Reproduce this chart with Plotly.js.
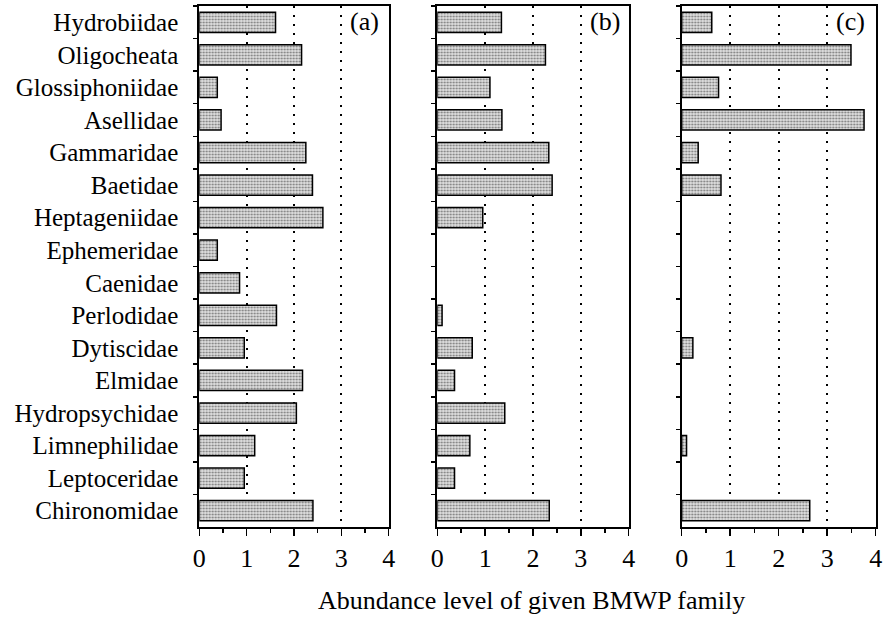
<!DOCTYPE html>
<html>
<head>
<meta charset="utf-8">
<script src="https://cdn.plot.ly/plotly-3.0.1.min.js"></script>
<style>
html,body{margin:0;padding:0;background:#fff;}
#chart{width:886px;height:617px;}
</style>
</head>
<body>
<div id="chart"></div>
<script>
const categories = ["Hydrobiidae","Oligocheata","Glossiphoniidae","Asellidae","Gammaridae","Baetidae","Heptageniidae","Ephemeridae","Caenidae","Perlodidae","Dytiscidae","Elmidae","Hydropsychidae","Limnephilidae","Leptoceridae","Chironomidae"];
const valuesA = [1.61,2.16,0.38,0.46,2.25,2.39,2.61,0.38,0.85,1.63,0.95,2.18,2.05,1.17,0.95,2.40];
const valuesB = [1.34,2.26,1.10,1.35,2.33,2.40,0.95,0,0,0.10,0.73,0.36,1.41,0.68,0.36,2.34];
const valuesC = [0.62,3.49,0.76,3.76,0.34,0.81,0,0,0,0,0.23,0,0,0.10,0,2.64];
const panelLabels = ["(a)","(b)","(c)"];
const xTickVals = [0,1,2,3,4];
const xTitle = "Abundance level of given BMWP family";

const W = 886, H = 617;
const fontFam = "Liberation Serif, Times New Roman, serif";
const xDom = [[199.3,388.7],[437.3,628.7],[681.7,875.7]].map(d => [d[0]/W, d[1]/W]);
const yDom = [1-527/H, 1-6/H];

const series = [valuesA, valuesB, valuesC];
const traces = series.map((vals, i) => ({
  type: 'bar', orientation: 'h',
  y: categories, x: vals,
  xaxis: i === 0 ? 'x' : 'x' + (i+1),
  yaxis: i === 0 ? 'y' : 'y' + (i+1),
  width: 0.62,
  marker: {
    color: '#cccccc',
    line: {color: '#000', width: vals.map(v => v > 0 ? 1.5 : 0)},
    pattern: {shape: '.', size: 3, solidity: 0.35, fgcolor: '#777777', bgcolor: '#e2e2e2', fillmode: 'replace'}
  },
  hoverinfo: 'skip', showlegend: false
}));

const layout = {
  width: W, height: H,
  margin: {l:0, r:0, t:0, b:0},
  paper_bgcolor: '#fff', plot_bgcolor: '#fff',
  font: {family: fontFam, size: 25, color: '#000'},
  showlegend: false,
  annotations: []
};

for (let i = 0; i < 3; i++) {
  const sx = i === 0 ? '' : String(i+1);
  layout['xaxis' + sx] = {
    domain: xDom[i], anchor: 'y' + sx, range: [0, 4],
    tickvals: xTickVals, ticktext: xTickVals.map(String),
    ticks: 'outside', ticklen: 7, tickwidth: 1.5, tickcolor: '#000',
    minor: {dtick: 0.5, tick0: 0, ticks: 'outside', ticklen: 4, tickwidth: 1.5, tickcolor: '#000', showgrid: false},
    showline: true, linecolor: '#000', linewidth: 2, mirror: true,
    showgrid: true, gridcolor: '#000', gridwidth: 2, griddash: '2px,7px',
    zeroline: false, automargin: false,
    tickfont: {family: fontFam, size: 26, color: '#000'}
  };
  layout['yaxis' + sx] = {
    domain: yDom, anchor: 'x' + sx, type: 'category',
    categoryorder: 'array', categoryarray: categories, autorange: 'reversed',
    tickson: 'boundaries', ticks: 'outside', ticklen: 4, tickwidth: 1.5, tickcolor: '#000',
    showticklabels: i === 0, ticklabelstandoff: 14,
    showline: true, linecolor: '#000', linewidth: 2, mirror: true,
    showgrid: false, zeroline: false, automargin: false,
    tickfont: {family: fontFam, size: 25, color: '#000'}
  };
  layout.annotations.push({
    text: panelLabels[i], xref: 'paper', yref: 'paper',
    x: [381, 622, 867][i] / W, y: 1 - 22/H, xanchor: 'right', yanchor: 'middle',
    showarrow: false, font: {family: fontFam, size: 26, color: '#000'}
  });
}
layout.annotations.push({
  text: xTitle, xref: 'paper', yref: 'paper',
  x: 531/W, y: 1 - 600/H, xanchor: 'center', yanchor: 'middle',
  showarrow: false, font: {family: fontFam, size: 26, color: '#000'}
});

Plotly.newPlot('chart', traces, layout, {displayModeBar: false, staticPlot: true});
</script>
</body>
</html>
